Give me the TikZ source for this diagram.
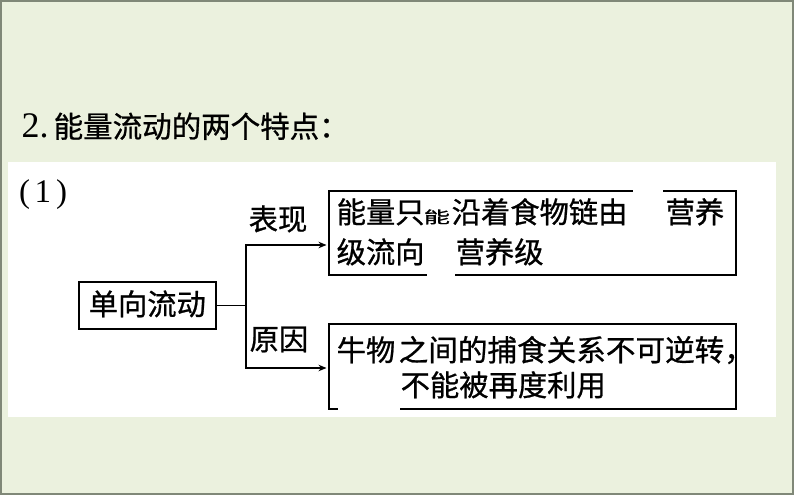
\documentclass[tikz,border=0pt]{standalone}
\usepackage{fontspec}
\setmainfont{Liberation Serif}
\newfontfamily\cjk[FakeBold=0.8]{Noto Sans CJK SC}
\usetikzlibrary{arrows.meta}
\definecolor{bgc}{RGB}{235,241,222}
\definecolor{framec}{RGB}{128,136,120}
\newcommand{\smallneng}{\scalebox{0.9}[0.55]{能}}
\begin{document}
\begin{tikzpicture}[x=1pt,y=-1pt,
  txt/.style={inner sep=0pt, anchor=base west, font=\cjk\fontsize{29.3}{34}\selectfont},
  boxc/.style={draw=black, line width=2pt, inner sep=0pt},
  conn/.style={line width=1.6pt},
  arr/.style={conn, -{Stealth[length=8pt,width=6.5pt]}, shorten >=1.5pt},
  gapc/.style={fill=white, draw=none}]
\useasboundingbox (0,0) rectangle (794,495);
\fill[bgc] (0,0) rectangle (794,495);
\draw[framec, line width=2pt] (1,1) rectangle (793,494);
\fill[white] (8,162) rectangle (776,417);
% title
\node[inner sep=0pt, anchor=base west] (title) at (21.5,137.5)
  {\makebox[32pt][l]{\fontsize{36}{40}\selectfont 2.}{\cjk\fontsize{29.5}{34}\selectfont 能量流动的两个特点：}};
\node[inner sep=0pt, anchor=base west, font=\fontsize{33}{38}\selectfont] (p1) at (19,202)
  {(\kern4.5pt 1\kern5pt)};
% boxes
\node[boxc, minimum width=137pt, minimum height=47pt] (dan) at (147.5,305.5) {};
\node[boxc, minimum width=407pt, minimum height=84pt] (box1) at (532.5,233) {};
\node[boxc, minimum width=407pt, minimum height=85pt] (box2) at (532.5,366.5) {};
% gaps in the borders
\fill[gapc] (633,187) rectangle (663,195);
\fill[gapc] (427,271) rectangle (455,279);
\fill[gapc] (338,405) rectangle (400,413);
% texts
\node[txt] (dantxt) at (88.5,315) {单向流动};
\node[txt] (bx) at (248.5,230) {表现};
\node[txt] (yy) at (249.5,350) {原因};
\node[txt] (l1) at (336.5,223)
  {\makebox[329pt][l]{\makebox[87pt][l]{能量只}\makebox[28pt][l]{\smallneng}沿着食物链由}营养};
\node[txt] (l2) at (336.5,263) {\makebox[119pt][l]{级流向}营养级};
\node[txt] (l3) at (336.5,361)
  {\makebox[62pt][l]{牛物}{\fontsize{29.6}{34}\selectfont 之间的捕食关系不可逆转，}};
\node[txt] (l4) at (400.5,396) {不能被再度利用};
% connectors
\coordinate (jt) at (246,245);
\coordinate (jb) at (246,368);
\draw[conn] (dan.east) -- (dan.east -| jt);
\draw[conn, line cap=rect] (jt) -- (jb);
\draw[arr] (jt) -- (jt -| box1.west);
\draw[arr] (jb) -- (jb -| box2.west);
\end{tikzpicture}
\end{document}
